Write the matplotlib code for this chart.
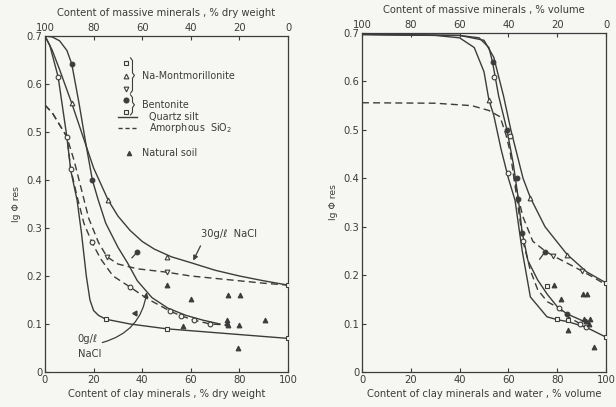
import matplotlib
matplotlib.use("Agg")
import matplotlib.pyplot as plt
from matplotlib.patches import FancyArrowPatch

# ---------------- data ----------------
# Left panel: % dry weight
L_q0_x = [0, 2, 5.4, 9, 10.6, 13.2, 15, 17, 18.5, 20, 22, 25, 35, 50, 75, 100]
L_q0_y = [0.70, 0.68, 0.615, 0.49, 0.42, 0.358, 0.29, 0.20, 0.15, 0.128, 0.118, 0.11, 0.10, 0.09, 0.08, 0.07]
L_q1_x = [0, 3, 6, 9, 11, 14, 17, 19.5, 21.8, 25, 30, 34, 38, 44, 50.6, 58, 65, 72]
L_q1_y = [0.70, 0.698, 0.69, 0.67, 0.642, 0.56, 0.47, 0.40, 0.36, 0.31, 0.26, 0.227, 0.19, 0.155, 0.133, 0.118, 0.108, 0.10]
L_q2_x = [0, 3, 6, 11, 15, 20, 26, 30, 35, 40, 45, 52, 60.5, 70, 80, 90, 100]
L_q2_y = [0.70, 0.67, 0.63, 0.56, 0.50, 0.425, 0.358, 0.325, 0.295, 0.272, 0.256, 0.24, 0.227, 0.212, 0.20, 0.19, 0.181]
L_a1_x = [0, 3, 6, 9, 10.6, 13, 16, 19.3, 23, 28, 35, 42, 51.4, 56, 61.3, 68, 75]
L_a1_y = [0.556, 0.54, 0.515, 0.49, 0.423, 0.37, 0.31, 0.27, 0.235, 0.20, 0.177, 0.153, 0.127, 0.117, 0.108, 0.10, 0.098]
L_a2_x = [0, 3, 6, 9, 12, 15, 18, 22, 25.5, 30, 38, 50, 60, 70, 80, 90, 100]
L_a2_y = [0.556, 0.54, 0.515, 0.49, 0.44, 0.38, 0.32, 0.27, 0.24, 0.225, 0.215, 0.208, 0.20, 0.195, 0.19, 0.185, 0.181]

L_circ_x = [5.4, 9, 10.6, 19.3, 35, 51.4, 56, 61.3, 68]
L_circ_y = [0.615, 0.49, 0.423, 0.27, 0.177, 0.127, 0.117, 0.108, 0.10]
L_fcirc_x = [11, 19.5, 38]
L_fcirc_y = [0.642, 0.40, 0.25]
L_tri_x = [11, 26, 50]
L_tri_y = [0.56, 0.358, 0.24]
L_tdn_x = [25.5, 50]
L_tdn_y = [0.24, 0.208]
L_sq_x = [25, 50, 100, 100]
L_sq_y = [0.11, 0.09, 0.07, 0.181]
L_soil_x = [50.2, 60, 56.7, 75.3, 80.2, 75, 75, 75.5, 80, 90.5, 79.5]
L_soil_y = [0.181, 0.152, 0.096, 0.16, 0.16, 0.108, 0.102, 0.097, 0.098, 0.108, 0.05]

# Right panel: % volume
R_q0_x = [0, 30, 40, 46, 50, 52, 54, 57, 60, 62.7, 65.6, 69, 75.8, 80, 84.4, 92, 100]
R_q0_y = [0.697, 0.695, 0.69, 0.67, 0.62, 0.562, 0.53, 0.46, 0.40, 0.355, 0.252, 0.155, 0.114, 0.108, 0.104, 0.092, 0.072]
R_q1_x = [0, 40, 48, 52, 53.5, 56, 59.4, 62, 64, 65.6, 68, 72, 76, 80, 84, 93]
R_q1_y = [0.697, 0.695, 0.69, 0.67, 0.64, 0.57, 0.50, 0.43, 0.36, 0.29, 0.23, 0.19, 0.16, 0.135, 0.12, 0.10]
R_q2_x = [0, 40, 50, 54, 58, 61, 63, 66, 69, 75, 84, 92, 100]
R_q2_y = [0.697, 0.695, 0.685, 0.65, 0.57, 0.50, 0.46, 0.40, 0.36, 0.30, 0.243, 0.207, 0.184]
R_a1_x = [0, 30, 45, 52, 56.6, 59, 60.7, 62, 64, 66, 69, 72, 76, 80.7, 84, 89.3, 92]
R_a1_y = [0.556, 0.555, 0.55, 0.54, 0.527, 0.49, 0.455, 0.41, 0.34, 0.27, 0.21, 0.17, 0.145, 0.132, 0.115, 0.10, 0.093]
R_a2_x = [62, 64, 66, 70, 75, 78.3, 84, 90, 95, 100]
R_a2_y = [0.41, 0.36, 0.32, 0.27, 0.25, 0.24, 0.225, 0.209, 0.195, 0.18]

R_circ_x = [54, 60.7, 60, 66, 80.7, 89.3, 92]
R_circ_y = [0.61, 0.488, 0.41, 0.27, 0.132, 0.099, 0.093]
R_fcirc_x = [53.5, 59.4, 63.5, 64, 65.6, 84, 75]
R_fcirc_y = [0.64, 0.50, 0.40, 0.357, 0.287, 0.12, 0.248]
R_tri_x = [52, 69, 84]
R_tri_y = [0.562, 0.36, 0.242]
R_tdn_x = [78.3, 90]
R_tdn_y = [0.24, 0.209]
R_sq_x = [75.8, 80, 84.4, 100, 100]
R_sq_y = [0.178, 0.11, 0.107, 0.072, 0.184]
R_soil_x = [78.7, 81.5, 90.6, 92.2, 92, 93, 84.4, 95, 91, 93.5]
R_soil_y = [0.18, 0.151, 0.161, 0.161, 0.105, 0.10, 0.087, 0.052, 0.11, 0.11]

yticks = [0, 0.1, 0.2, 0.3, 0.4, 0.5, 0.6, 0.7]
ytick_labels = ["0", "0.1", "0.2", "0.3", "0.4", "0.5", "0.6", "0.7"]
xticks = [0, 20, 40, 60, 80, 100]
top_labels = ["100", "80", "60", "40", "20", "0"]

# ---------------- style ----------------
BG = "#f6f6f3"
INK = "#3c3c3c"
FS = 7.2
plt.rcParams["font.family"] = ["DejaVu Sans"]
LW = 1.0
DASH = (0, (5, 3))
MS = 3.4

fig = plt.figure(figsize=(6.16, 4.07), dpi=100, facecolor=BG)
axL = fig.add_axes([45/616, 35/407, 243/616, 336/407])
axR = fig.add_axes([362/616, 35/407, 244/616, 339/407])


def setup(ax, top_title, bottom_title):
    ax.set_facecolor(BG)
    ax.set_xlim(0, 100)
    ax.set_ylim(0, 0.7)
    ax.set_xticks(xticks)
    ax.set_xticklabels([str(t) for t in xticks], fontsize=FS, color=INK)
    ax.set_yticks(yticks)
    ax.set_yticklabels(ytick_labels, fontsize=FS, color=INK)
    ax.tick_params(direction="in", length=3, width=0.8, colors=INK, pad=2)
    for s in ax.spines.values():
        s.set_color(INK)
        s.set_linewidth(0.9)
    ax.set_xlabel(bottom_title, fontsize=FS, color=INK, labelpad=3)
    ax.set_ylabel("lg Φ res", fontsize=FS - 0.5, color=INK, labelpad=4)
    top = ax.twiny()
    top.set_xlim(0, 100)
    top.set_xticks(xticks)
    top.set_xticklabels(top_labels, fontsize=FS, color=INK)
    top.tick_params(direction="in", length=3, width=0.8, colors=INK, pad=2)
    top.set_xlabel(top_title, fontsize=FS, color=INK, labelpad=5)
    for s in top.spines.values():
        s.set_visible(False)


def markers(ax, cx, cy, fx, fy, tx, ty, dx, dy, sx, sy, nx, ny):
    kw = dict(linestyle="none", color=INK, markersize=MS, markeredgewidth=0.8, zorder=4)
    ax.plot(cx, cy, marker="o", markerfacecolor=BG, **kw)
    ax.plot(fx, fy, marker="o", markerfacecolor=INK, **kw)
    ax.plot(tx, ty, marker="^", markerfacecolor=BG, **kw)
    ax.plot(dx, dy, marker="v", markerfacecolor=BG, **kw)
    ax.plot(sx, sy, marker="s", markerfacecolor=BG, **{**kw, "markersize": MS - 0.3})
    ax.plot(nx, ny, marker="^", markerfacecolor=INK, **{**kw, "markersize": MS})


def brace(ax, x, y0, y1, w=0.008):
    ym = (y0 + y1) / 2
    h = 0.008
    ax.plot([x, x + w, x + w, x + 2 * w, x + w, x + w, x],
            [y1, y1 - h, ym + h, ym, ym - h, y0 + h, y0],
            transform=ax.transAxes, color=INK, lw=0.8, clip_on=False)


# ---------------- left panel ----------------
setup(axL, "Content of massive minerals , % dry weight",
      "Content of clay minerals , % dry weight")
for x, y in [(L_q0_x, L_q0_y), (L_q1_x, L_q1_y), (L_q2_x, L_q2_y)]:
    axL.plot(x, y, color=INK, lw=LW)
for x, y in [(L_a1_x, L_a1_y), (L_a2_x, L_a2_y)]:
    axL.plot(x, y, color=INK, lw=LW, linestyle=DASH)
markers(axL, L_circ_x, L_circ_y, L_fcirc_x, L_fcirc_y, L_tri_x, L_tri_y,
        L_tdn_x, L_tdn_y, L_sq_x, L_sq_y, L_soil_x, L_soil_y)
# short tick on the filled point
axL.plot([L_fcirc_x[2], L_fcirc_x[2] - 2.2], [L_fcirc_y[2], L_fcirc_y[2] - 0.012], color=INK, lw=0.9)

# annotations
axL.text(64, 0.282, "30g/ℓ  NaCl", fontsize=FS, color=INK)
axL.annotate("", xy=(60.5, 0.227), xytext=(64.5, 0.268),
             arrowprops=dict(arrowstyle="-|>", color=INK, lw=0.9, mutation_scale=7))
axL.text(13.5, 0.063, "0g/ℓ", fontsize=FS, color=INK)
axL.text(13.5, 0.032, "NaCl", fontsize=FS, color=INK)
arr = FancyArrowPatch((22.5, 0.06), (42, 0.172), connectionstyle="arc3,rad=0.35",
                      arrowstyle="-|>", mutation_scale=7, color=INK, lw=0.9)
axL.add_patch(arr)
axL.plot([37.2], [0.123], marker=(3, 0, -30), color=INK, markersize=4, linestyle="none")

# legend (hand-built, as in the original)
T = axL.transAxes
lk = dict(transform=T, linestyle="none", color=INK, markeredgewidth=0.8, clip_on=False)
axL.plot([0.333], [0.92], marker="s", markersize=3.2, markerfacecolor=BG, **lk)
axL.plot([0.333], [0.881], marker="^", markersize=3.4, markerfacecolor=BG, **lk)
axL.plot([0.333], [0.842], marker="v", markersize=3.4, markerfacecolor=BG, **lk)
axL.plot([0.333], [0.811], marker="o", markersize=3.6, markerfacecolor=INK, **lk)
axL.plot([0.333], [0.775], marker="s", markersize=3.2, markerfacecolor=BG, **lk)
brace(axL, 0.352, 0.830, 0.935)
brace(axL, 0.352, 0.765, 0.825)
axL.text(0.40, 0.881, "Na-Montmorillonite", transform=T, fontsize=FS - 0.3, color=INK, va="center")
axL.text(0.40, 0.795, "Bentonite", transform=T, fontsize=FS - 0.3, color=INK, va="center")
axL.plot([0.30, 0.38], [0.758, 0.758], transform=T, color=INK, lw=LW)
axL.plot([0.30, 0.38], [0.725, 0.725], transform=T, color=INK, lw=LW, linestyle=(0, (3, 2)))
axL.text(0.43, 0.758, "Quartz silt", transform=T, fontsize=FS - 0.3, color=INK, va="center")
axL.text(0.43, 0.725, "Amorphous  SiO$_2$", transform=T, fontsize=FS - 0.3, color=INK, va="center")
axL.plot([0.346], [0.652], marker="^", markersize=3.2, markerfacecolor=INK, **lk)
axL.text(0.40, 0.652, "Natural soil", transform=T, fontsize=FS - 0.3, color=INK, va="center")

# ---------------- right panel ----------------
setup(axR, "Content of massive minerals , % volume",
      "Content of clay minerals and water , % volume")
for x, y in [(R_q0_x, R_q0_y), (R_q1_x, R_q1_y), (R_q2_x, R_q2_y)]:
    axR.plot(x, y, color=INK, lw=LW)
for x, y in [(R_a1_x, R_a1_y), (R_a2_x, R_a2_y)]:
    axR.plot(x, y, color=INK, lw=LW, linestyle=DASH)
markers(axR, R_circ_x, R_circ_y, R_fcirc_x, R_fcirc_y, R_tri_x, R_tri_y,
        R_tdn_x, R_tdn_y, R_sq_x, R_sq_y, R_soil_x, R_soil_y)
axR.plot([R_fcirc_x[6], R_fcirc_x[6] - 2.2], [R_fcirc_y[6], R_fcirc_y[6] - 0.015], color=INK, lw=0.9)

fig.savefig("out.png", dpi=100, facecolor=BG)
